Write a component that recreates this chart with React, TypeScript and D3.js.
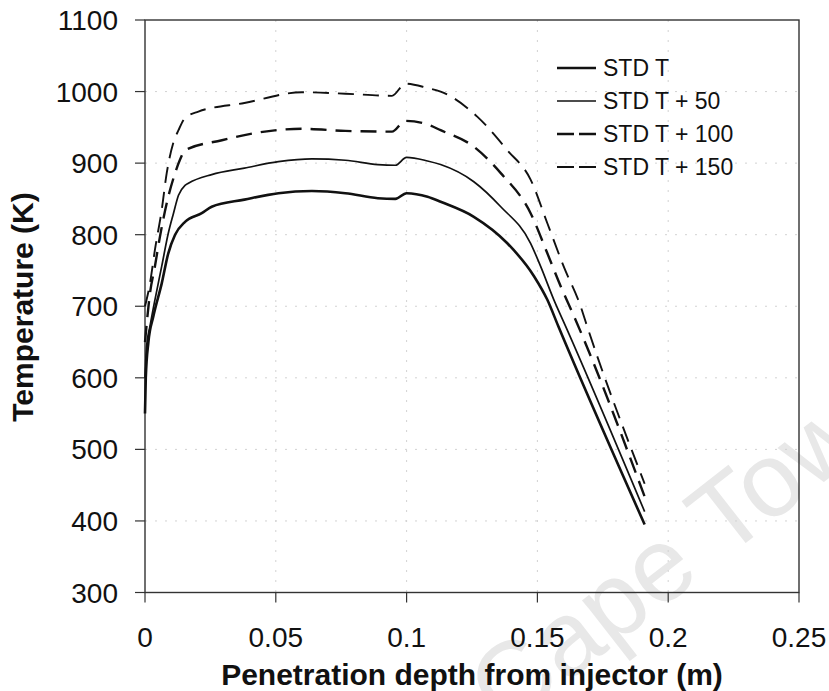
import React from 'react';
import * as d3 from 'd3';

const W = 829;
const H = 691;

const xTicks = [0, 0.05, 0.1, 0.15, 0.2, 0.25];
const xTickLabels = ['0', '0.05', '0.1', '0.15', '0.2', '0.25'];
const yTicks = [300, 400, 500, 600, 700, 800, 900, 1000, 1100];
const yTickLabels = ['300', '400', '500', '600', '700', '800', '900', '1000', '1100'];

const seriesNames = ['STD T', 'STD T + 50', 'STD T + 100', 'STD T + 150'];

const depthStd = [0, 0.0003, 0.0013, 0.0032, 0.0064, 0.0089, 0.0115, 0.0153, 0.0217, 0.0255, 0.038, 0.051, 0.0638, 0.0766, 0.089, 0.0957, 0.1, 0.108, 0.113, 0.1257, 0.1385, 0.1487, 0.1538, 0.158, 0.191];
const tempStd = [550, 600, 650, 686, 732, 774, 800, 818, 830, 839, 849, 858, 861, 858, 851, 850, 858, 853, 846, 825, 788, 742, 709, 672, 395];

const depth50 = [0, 0.0006, 0.0019, 0.0038, 0.0064, 0.0089, 0.0109, 0.0128, 0.0153, 0.0166, 0.0255, 0.038, 0.051, 0.0638, 0.0766, 0.089, 0.0957, 0.1, 0.108, 0.113, 0.1257, 0.136, 0.1474, 0.1512, 0.1563, 0.1608, 0.191];
const temp50 = [600, 644, 672, 709, 756, 802, 830, 855, 869, 872, 884, 893, 902, 906, 904, 898, 897, 908, 903, 898, 874, 839, 788, 756, 709, 672, 413];

const depth100 = [0, 0.0019, 0.0038, 0.0057, 0.0083, 0.0115, 0.0134, 0.0153, 0.0294, 0.042, 0.06, 0.0766, 0.0944, 0.0995, 0.108, 0.113, 0.1257, 0.136, 0.1474, 0.1538, 0.1589, 0.164, 0.191];
const temp100 = [650, 718, 756, 797, 844, 886, 905, 918, 932, 942, 948, 945, 944, 959, 954, 946, 923, 886, 830, 774, 728, 686, 434];

const depth150 = [0, 0.0019, 0.0038, 0.0064, 0.0083, 0.0108, 0.0128, 0.0153, 0.0204, 0.038, 0.06, 0.0766, 0.0944, 0.0995, 0.108, 0.113, 0.127, 0.1385, 0.1474, 0.1538, 0.16, 0.1665, 0.169, 0.191];
const temp150 = [700, 732, 779, 835, 886, 928, 946, 963, 972, 984, 999, 997, 994, 1011, 1005, 1000, 965, 918, 877, 816, 756, 700, 672, 452];

const seriesDepths = [depthStd, depth50, depth100, depth150];
const seriesTemps = [tempStd, temp50, temp100, temp150];
const seriesWidths = [2.6, 1.7, 2.4, 1.9];
const seriesDash = ['none', 'none', '16,9', '16,9'];

const FONT = "'Liberation Sans', Arial, Helvetica, sans-serif";

export default function App() {
  const left = 145, right = 799, top = 20, bottom = 592.5;
  const x = d3.scaleLinear().domain([0, 0.25]).range([left, right]);
  const y = d3.scaleLinear().domain([300, 1100]).range([bottom, top]);

  const line = d3
    .line<[number, number]>()
    .x((d) => x(d[0]))
    .y((d) => y(d[1]))
    .curve(d3.curveMonotoneX);

  const legendY = [68, 101, 134, 167];

  return (
    <svg
      width={W}
      height={H}
      viewBox={`0 0 ${W} ${H}`}
      style={{ position: 'absolute', left: 0, top: 0, background: '#fff' }}
    >
      <rect x={0} y={0} width={W} height={H} fill="#fff" />
      {/* watermark */}
      <text
        transform="translate(505,731) rotate(-38)"
        fontFamily={FONT}
        fontSize={105}
        fill="#e8e8e8"
      >
        Cape Town
      </text>

      {/* gridlines */}
      {yTicks.slice(1, -1).map((t) => (
        <line key={'gy' + t} x1={left} x2={right} y1={y(t)} y2={y(t)} stroke="#d2d2d2" strokeWidth={1} strokeDasharray="2,8" />
      ))}
      {xTicks.slice(1, -1).map((t) => (
        <line key={'gx' + t} x1={x(t)} x2={x(t)} y1={top} y2={bottom} stroke="#d2d2d2" strokeWidth={1} strokeDasharray="2,8" />
      ))}

      {/* frame */}
      <rect x={left} y={top} width={right - left} height={bottom - top} fill="none" stroke="#333" strokeWidth={1.4} />

      {/* y ticks */}
      {yTicks.map((t, i) => (
        <g key={'yt' + t}>
          <line x1={left - 10} x2={left} y1={y(t)} y2={y(t)} stroke="#333" strokeWidth={1.2} />
          <text x={118} y={y(t)} dy="0.36em" textAnchor="end" fontFamily={FONT} fontSize={28} fill="#111">
            {yTickLabels[i]}
          </text>
        </g>
      ))}
      {/* x ticks */}
      {xTicks.map((t, i) => (
        <g key={'xt' + t}>
          <line x1={x(t)} x2={x(t)} y1={bottom} y2={bottom + 10} stroke="#333" strokeWidth={1.2} />
          <text x={x(t)} y={647} textAnchor="middle" fontFamily={FONT} fontSize={28} fill="#111">
            {xTickLabels[i]}
          </text>
        </g>
      ))}

      {/* axis titles */}
      <text x={472} y={685} textAnchor="middle" fontFamily={FONT} fontSize={30} fontWeight="bold" fill="#111">
        Penetration depth from injector (m)
      </text>
      <text
        transform="translate(33,307) rotate(-90)"
        textAnchor="middle"
        fontFamily={FONT}
        fontSize={30}
        fontWeight="bold"
        fill="#111"
      >
        Temperature (K)
      </text>

      {/* series */}
      {seriesDepths.map((ds, si) => {
        const pts: [number, number][] = ds.map((d, j) => [d, seriesTemps[si][j]]);
        return (
          <path
            key={'s' + si}
            d={line(pts) || ''}
            fill="none"
            stroke="#111"
            strokeWidth={seriesWidths[si]}
            strokeDasharray={seriesDash[si]}
            strokeLinejoin="round"
          />
        );
      })}

      {/* legend */}
      {seriesNames.map((n, i) => (
        <g key={'lg' + i}>
          <line
            x1={557}
            x2={596}
            y1={legendY[i]}
            y2={legendY[i]}
            stroke="#111"
            strokeWidth={seriesWidths[i]}
            strokeDasharray={seriesDash[i] === 'none' ? 'none' : '17,5'}
          />
          <text x={603} y={legendY[i]} dy="0.36em" fontFamily={FONT} fontSize={23} fill="#111">
            {n}
          </text>
        </g>
      ))}
    </svg>
  );
}
